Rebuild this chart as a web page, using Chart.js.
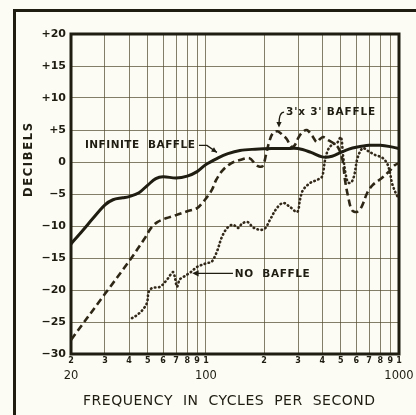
<!DOCTYPE html>
<html><head><meta charset="utf-8">
<script src="https://cdn.jsdelivr.net/npm/chart.js@4"></script>
<style>html,body{margin:0;padding:0;background:#fcfcf5;}canvas{display:block}</style>
</head><body>
<canvas id="c" width="416" height="415" style="width:416px;height:415px"></canvas>
<script>
// ---- data ----
const infiniteFreq = [20,23,26,30,33,37,40,45,50,55,60,70,80,90,100,115,130,150,180,220,260,300,350,400,450,500,550,600,700,800,900,1000];
const infiniteDb   = [-12.8,-10.7,-8.8,-6.7,-5.9,-5.6,-5.4,-4.8,-3.6,-2.6,-2.3,-2.5,-2.2,-1.5,-0.4,0.6,1.3,1.8,2.0,2.1,2.1,2.1,1.5,0.8,0.9,1.5,2.0,2.3,2.6,2.6,2.4,2.1];

const baffleFreq = [20,30,40,48,52,56,62,70,80,90,97,103,108,113,122,135,150,168,180,188,197,205,212,222,235,250,262,277,288,300,315,333,355,375,390,405,430,460,485,510,525,545,570,605,640,685,730,815,900,950,1000];
const baffleDb   = [-27.8,-20.6,-15.5,-12.0,-10.3,-9.4,-8.8,-8.3,-7.7,-7.2,-6.2,-5.2,-4.2,-2.8,-1.3,-0.2,0.3,0.6,-0.3,-0.7,-0.6,1.2,3.0,4.5,4.8,4.2,3.6,2.4,2.6,3.7,4.6,5.0,4.1,3.1,3.6,3.9,3.4,2.9,2.2,0.3,-2.8,-5.4,-7.5,-7.8,-7.0,-4.8,-3.6,-2.5,-1.3,-0.5,-0.2];

const noBaffleFreq = [41.4,44,47,49.5,50.5,52.6,57.8,62.8,67.5,69,70.8,73,76,82.7,90,101,107,114,121,129,138,147,154,165,175,191,202,215,233,251,272,297,307,318,346,376,399,414,429,450,478,500,513,530,545,565,585,606,628,652,683,752,817,867,898,920,960,1000];
const noBaffleDb   = [-24.4,-23.9,-23.1,-22.0,-20.3,-19.7,-19.5,-18.4,-17.2,-18.0,-19.5,-18.4,-18.0,-17.3,-16.4,-15.8,-15.6,-14.0,-11.7,-10.3,-9.8,-10.3,-9.6,-9.4,-10.2,-10.6,-10.4,-9.0,-7.2,-6.4,-7.0,-7.8,-5.9,-4.4,-3.3,-2.8,-2.3,0.3,1.9,2.7,3.0,3.9,1.0,-2.0,-3.2,-3.2,-2.2,0.3,1.6,2.2,1.8,1.1,0.7,-0.2,-1.7,-3.3,-4.8,-5.8];

const xTickValues = [20,30,40,50,60,70,80,90,100,200,300,400,500,600,700,800,900,1000];
const xTickLabels = ['2','3','4','5','6','7','8','9','1','2','3','4','5','6','7','8','9','1'];
const xDecadeValues = [20,100,1000];
const xDecadeLabels = ['20','100','1000'];
const yTickValues = [-30,-25,-20,-15,-10,-5,0,5,10,15,20];
const yTickLabels = ['\u221230','\u221225','\u221220','\u221215','\u221210','\u22125','0','+5','+10','+15','+20'];
const xTitle = 'FREQUENCY  IN  CYCLES  PER  SECOND';
const yTitle = 'DECIBELS';
const labelInfinite = 'INFINITE  BAFFLE';
const labelBaffle = "3'x 3' BAFFLE";
const labelNoBaffle = 'NO  BAFFLE';

const ink = '#1f1d12';
const gridCol = 'rgba(85,78,48,0.72)';

function toXY(fs, ds){ return fs.map((f,i)=>({x:f, y:ds[i]})); }

function fitText(ctx, txt, x, y, w){
  const m = ctx.measureText(txt).width;
  const n = txt.length - 1;
  if ('letterSpacing' in ctx && n > 0) {
    ctx.letterSpacing = ((w - m) / n) + 'px';
    ctx.fillText(txt, x, y);
    ctx.letterSpacing = '0px';
  } else {
    ctx.save(); ctx.translate(x, y); ctx.scale(w / m, 1); ctx.fillText(txt, 0, 0); ctx.restore();
  }
}
function arrowHead(ctx, x1, y1, x2, y2, size){
  const a = Math.atan2(y2 - y1, x2 - x1);
  ctx.beginPath();
  ctx.moveTo(x2, y2);
  ctx.lineTo(x2 - size*Math.cos(a - 0.45), y2 - size*Math.sin(a - 0.45));
  ctx.lineTo(x2 - size*Math.cos(a + 0.45), y2 - size*Math.sin(a + 0.45));
  ctx.closePath(); ctx.fill();
}

const deco = {
  id: 'deco',
  beforeDraw(chart){
    const {ctx, width, height} = chart;
    ctx.save(); ctx.fillStyle = '#fcfcf5'; ctx.fillRect(0,0,width,height); ctx.restore();
  },
  beforeDatasetsDraw(chart){
    const {ctx, chartArea:a} = chart;
    ctx.save();
    ctx.strokeStyle = ink; ctx.lineWidth = 3;
    ctx.strokeRect(a.left, a.top, a.right - a.left, a.bottom - a.top);
    ctx.restore();
  },
  afterDraw(chart){
    const {ctx, scales:{x, y}} = chart;
    ctx.save();
    // outer frame
    ctx.strokeStyle = ink; ctx.lineWidth = 3;
    ctx.beginPath(); ctx.moveTo(14.5, 416); ctx.lineTo(14.5, 10.5); ctx.lineTo(417, 10.5); ctx.stroke();

    ctx.fillStyle = ink; ctx.strokeStyle = ink;
    ctx.textBaseline = 'middle'; ctx.textAlign = 'left';
    // axis titles
    ctx.font = '14px "DejaVu Sans"';
    fitText(ctx, xTitle, 83, 401, 292);
    ctx.save();
    ctx.translate(29, 160); ctx.rotate(-Math.PI/2);
    ctx.font = 'bold 11.5px "DejaVu Sans"';
    fitText(ctx, yTitle, -37, 0, 74);
    ctx.restore();

    // annotations
    ctx.font = 'bold 10.5px "DejaVu Sans"';
    // infinite baffle
    const ix = x.getPixelForValue(23.6), iy = y.getPixelForValue(2.6);
    fitText(ctx, labelInfinite, ix, iy, 110);
    ctx.lineWidth = 1.3;
    let ax1 = x.getPixelForValue(92), ay1 = y.getPixelForValue(2.6);
    let ax2 = x.getPixelForValue(114), ay2 = y.getPixelForValue(1.5);
    ctx.beginPath(); ctx.moveTo(ax1, ay1); ctx.lineTo(ax1 + 8, ay1); ctx.lineTo(ax2, ay2); ctx.stroke();
    arrowHead(ctx, ax1 + 8, ay1, ax2, ay2, 6);

    // 3'x3' baffle
    const bx = x.getPixelForValue(260), by = y.getPixelForValue(7.7);
    fitText(ctx, labelBaffle, bx, by, 89);
    let cx1 = x.getPixelForValue(254), cy1 = y.getPixelForValue(7.8);
    let cx2 = x.getPixelForValue(239), cy2 = y.getPixelForValue(5.4);
    ctx.beginPath(); ctx.moveTo(cx1, cy1); ctx.quadraticCurveTo(cx2, cy1, cx2, cy2 - 3); ctx.stroke();
    arrowHead(ctx, cx2, cy2 - 6, cx2, cy2, 6);

    // no baffle
    const nx = x.getPixelForValue(141), ny = y.getPixelForValue(-17.5);
    fitText(ctx, labelNoBaffle, nx, ny, 75);
    let nx1 = x.getPixelForValue(138), nx2 = x.getPixelForValue(85), nyl = y.getPixelForValue(-17.4);
    ctx.beginPath(); ctx.moveTo(nx1, nyl); ctx.lineTo(nx2 + 3, nyl); ctx.stroke();
    arrowHead(ctx, nx1, nyl, nx2, nyl, 7);
    ctx.restore();
  }
};

new Chart(document.getElementById('c'), {
  type: 'line',
  data: {
    datasets: [
      { label: 'Infinite baffle', data: toXY(infiniteFreq, infiniteDb), borderColor: ink, borderWidth: 3, pointRadius: 0, tension: 0.35, fill: false },
      { label: "3'x3' baffle", data: toXY(baffleFreq, baffleDb), borderColor: '#2e2716', borderWidth: 2.6, borderDash: [7,4], pointRadius: 0, tension: 0.35, fill: false },
      { label: 'No baffle', data: toXY(noBaffleFreq, noBaffleDb), borderColor: '#33291a', borderWidth: 2.6, borderDash: [0.5,3.6], borderCapStyle: 'round', pointRadius: 0, tension: 0.35, fill: false }
    ]
  },
  options: {
    responsive: false,
    animation: false,
    layout: { padding: { left: 0, top: 34, right: 17, bottom: 0 } },
    plugins: { legend: { display: false }, tooltip: { enabled: false } },
    scales: {
      x: {
        type: 'logarithmic', position: 'bottom', min: 20, max: 1000,
        afterBuildTicks: s => { s.ticks = xTickValues.map(v => ({ value: v })); },
        afterFit: s => { s.height = 14; },
        ticks: { autoSkip: false, maxRotation: 0, padding: 2, color: ink,
          font: { family: 'DejaVu Sans', size: 8, weight: 'bold' },
          callback: (v, i) => xTickLabels[i] },
        grid: { color: gridCol, lineWidth: 1, drawTicks: false },
        border: { display: false }
      },
      x2: {
        type: 'logarithmic', position: 'bottom', min: 20, max: 1000,
        afterBuildTicks: s => { s.ticks = xDecadeValues.map(v => ({ value: v })); },
        afterFit: s => { s.height = 47; },
        ticks: { autoSkip: false, maxRotation: 0, padding: 1, color: ink,
          font: { family: 'DejaVu Sans', size: 11.5 },
          callback: (v, i) => xDecadeLabels[i] },
        grid: { display: false, drawTicks: false },
        border: { display: false }
      },
      y: {
        type: 'linear', min: -30, max: 20,
        afterBuildTicks: s => { s.ticks = yTickValues.map(v => ({ value: v })); },
        afterFit: s => { s.width = 71; },
        ticks: { padding: 5, color: ink, font: { family: 'DejaVu Sans', size: 11, weight: 'bold' },
          callback: (v, i) => yTickLabels[i] },
        grid: { color: gridCol, lineWidth: 1, drawTicks: false },
        border: { display: false }
      }
    }
  },
  plugins: [deco]
});
</script>
</body></html>
